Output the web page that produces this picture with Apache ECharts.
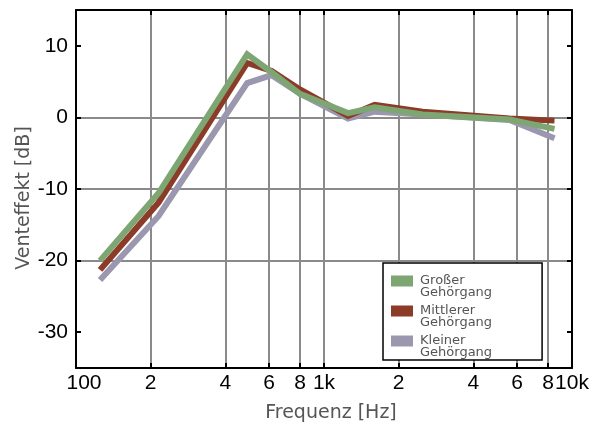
<!DOCTYPE html>
<html><head><meta charset="utf-8">
<script src="https://cdn.jsdelivr.net/npm/echarts@6/dist/echarts.min.js"></script>
<style>html,body{margin:0;padding:0;background:#fff}#c{width:599px;height:428px}</style>
</head><body><div id="c"></div>
<script>
// Data (frequency in Hz, effect in dB)
const frequencies = [125, 215, 490, 615, 800, 1250, 1600, 2500, 5600, 8500];
const grosser   = [-20.0, -10.6, 8.8, 6.3, 3.3, 0.6, 1.4, 0.4, -0.3, -1.6];
const mittlerer = [-21.3, -11.9, 7.6, 6.5, 3.9, 0.2, 1.75, 0.8, -0.15, -0.45];
const kleiner   = [-22.7, -13.8, 4.8, 5.9, 3.3, -0.15, 0.8, 0.4, -0.35, -2.9];
const seriesNames = ['Großer\nGehörgang', 'Mittlerer\nGehörgang', 'Kleiner\nGehörgang'];
const seriesColors = ['#7da673', '#8b3b27', '#9b97ae'];
const xTickValues = [100, 200, 400, 600, 800, 1000, 2000, 4000, 6000, 8000, 10000];
const xTickLabels = ['100', '2', '4', '6', '8', '1k', '2', '4', '6', '8', '10k'];
const yTickValues = [-30, -20, -10, 0, 10];

const xMin = Math.log10(100), xMax = Math.log10(10000);
const xCustom = xTickValues.map(v => Math.log10(v));
const toPairs = vals => frequencies.map((f, i) => [Math.log10(f), vals[i]]);

const chart = echarts.init(document.getElementById('c'), null, {renderer: 'canvas'});
const tickStyle = {show: true, inside: true, length: 5, lineStyle: {color: '#000', width: 2}};
const gridLine = {show: true, showMinLine: false, showMaxLine: false, lineStyle: {color: '#8a8a8a', width: 2}};
const axisLineStyle = {show: true, onZero: false, lineStyle: {color: '#000', width: 2}};

function mkSeries(idx, vals) {
  return {
    name: seriesNames[idx], type: 'line', data: toPairs(vals),
    showSymbol: false, symbol: 'none',
    color: seriesColors[idx],
    itemStyle: {color: seriesColors[idx]},
    lineStyle: {color: seriesColors[idx], width: 6, join: 'miter', cap: 'butt'},
    emphasis: {disabled: true}
  };
}

chart.setOption({
  animation: false,
  backgroundColor: '#fff',
  grid: {left: 76, right: 27, top: 10, bottom: 59, containLabel: false},
  legend: {
    data: seriesNames,
    orient: 'vertical', left: 383, top: 263,
    itemWidth: 24, itemHeight: 24, itemGap: 5,
    icon: 'path://M0,0L0.01,0 M0,1L22,1L22,12L0,12Z M23.99,24L24,24',
    itemStyle: {borderWidth: 0},
    padding: [11, 50, 1, 8],
    borderColor: '#000', borderWidth: 1.5, backgroundColor: '#fff',
    textStyle: {fontFamily: 'DejaVu Sans', fontSize: 13, lineHeight: 12, color: '#555'},
    selectedMode: false
  },
  xAxis: [{
    type: 'value', min: xMin, max: xMax, position: 'bottom',
    axisLine: axisLineStyle,
    axisTick: Object.assign({customValues: xCustom}, tickStyle),
    splitLine: gridLine,
    axisLabel: {
      customValues: xCustom, margin: 5,
      fontFamily: 'Liberation Sans', fontSize: 21, color: '#000',
      formatter: function (val) {
        const i = xCustom.findIndex(v => Math.abs(v - val) < 1e-6);
        const t = i >= 0 ? xTickLabels[i] : '';
        return i === 0 ? '{first|' + t + '}' : t;
      },
      rich: {first: {fontFamily: 'Liberation Sans', fontSize: 21, color: '#000', padding: [0, 0, 0, 16]}}
    },
    name: 'Frequenz [Hz]', nameLocation: 'middle', nameGap: 36, nameMoveOverlap: false,
    nameTextStyle: {fontFamily: 'DejaVu Sans', fontSize: 19, color: '#555', padding: [0, 0, 0, 14]}
  }, {
    type: 'value', min: xMin, max: xMax, position: 'top',
    axisLine: axisLineStyle,
    axisTick: Object.assign({customValues: xCustom}, tickStyle),
    axisLabel: {show: false}, splitLine: {show: false}
  }],
  yAxis: [{
    type: 'value', min: -35, max: 15, position: 'left',
    axisLine: axisLineStyle,
    axisTick: Object.assign({customValues: yTickValues}, tickStyle),
    splitLine: gridLine,
    axisLabel: {customValues: yTickValues, margin: 8, fontFamily: 'Liberation Sans', fontSize: 21, color: '#000'},
    name: 'Venteffekt [dB]', nameLocation: 'middle', nameGap: 42, nameRotate: 90, nameMoveOverlap: false,
    nameTextStyle: {fontFamily: 'DejaVu Sans', fontSize: 19, color: '#555', padding: [0, 18, 0, 0]}
  }, {
    type: 'value', min: -35, max: 15, position: 'right',
    axisLine: axisLineStyle,
    axisTick: Object.assign({customValues: yTickValues}, tickStyle),
    axisLabel: {show: false}, splitLine: {show: false}
  }],
  series: [mkSeries(2, kleiner), mkSeries(1, mittlerer), mkSeries(0, grosser)]
});
</script>
</body></html>
